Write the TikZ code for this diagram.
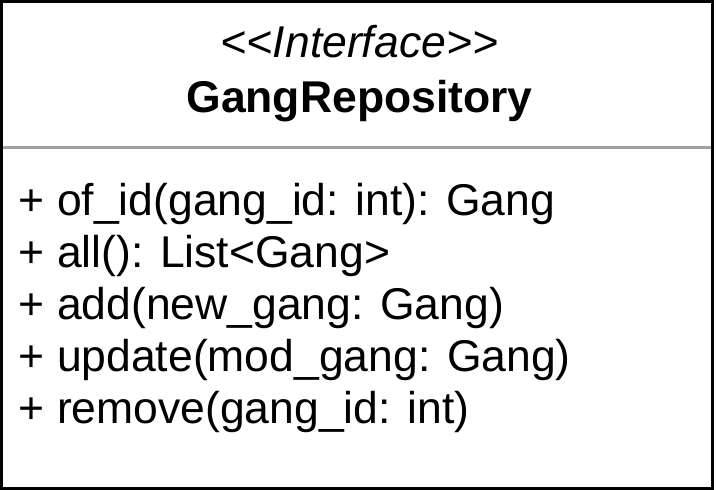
\documentclass[tikz,border=0pt]{standalone}
\usepackage{fontspec}
\setmainfont{Liberation Sans}
\usetikzlibrary{positioning}
\definecolor{sep-gray}{gray}{0.63}
\newdimen\umlunit
\setlength{\umlunit}{1pt}
\tikzstyle{umlboxstyle}=[draw,line width=3\umlunit]
\tikzstyle{umlsepstyle}=[draw=sep-gray,line width=3\umlunit]
\tikzstyle{umltextstyle}=[font=\fontsize{44.5}{52}\selectfont,inner sep=0pt]
\newcommand{\umlmemberx}{18.5}
\newcommand{\umlmember}[3]{ \draw (\umlmemberx \umlunit,#2 \umlunit) node [style=umltextstyle,anchor=base west] (#1) {#3}; }
\newcommand{\umltitle}[3]{ \draw (359.5 \umlunit,#2 \umlunit) node [style=umltextstyle,anchor=base] (#1) {#3}; }

\begin{document}
\begin{tikzpicture}
\useasboundingbox (0,0) rectangle (716 \umlunit,490 \umlunit); %
\draw [style=umlboxstyle] (1.5 \umlunit,1.5 \umlunit) rectangle (712.5 \umlunit,488.5 \umlunit); %
\coordinate (sepL) at (3 \umlunit,342 \umlunit); %
\coordinate (sepR) at (711 \umlunit,342 \umlunit); %
\draw [style=umlsepstyle] (sepL) -- (sepR); %
\umltitle{stereo}{432}{\itshape <\kern0pt<Interface>\kern0pt>} %
\umltitle{classname}{377}{\bfseries GangRepository} %
\umlmember{ofid}{274}{+ of\_id(gang\_id: int): Gang} %
\umlmember{all}{222}{+ all(): List<Gang>} %
\umlmember{add}{170}{+ add(new\_gang: Gang)} %
\umlmember{update}{118}{+ update(mod\_gang: Gang)} %
\umlmember{remove}{66}{+ remove(gang\_id: int)} %
\end{tikzpicture}
\end{document}
